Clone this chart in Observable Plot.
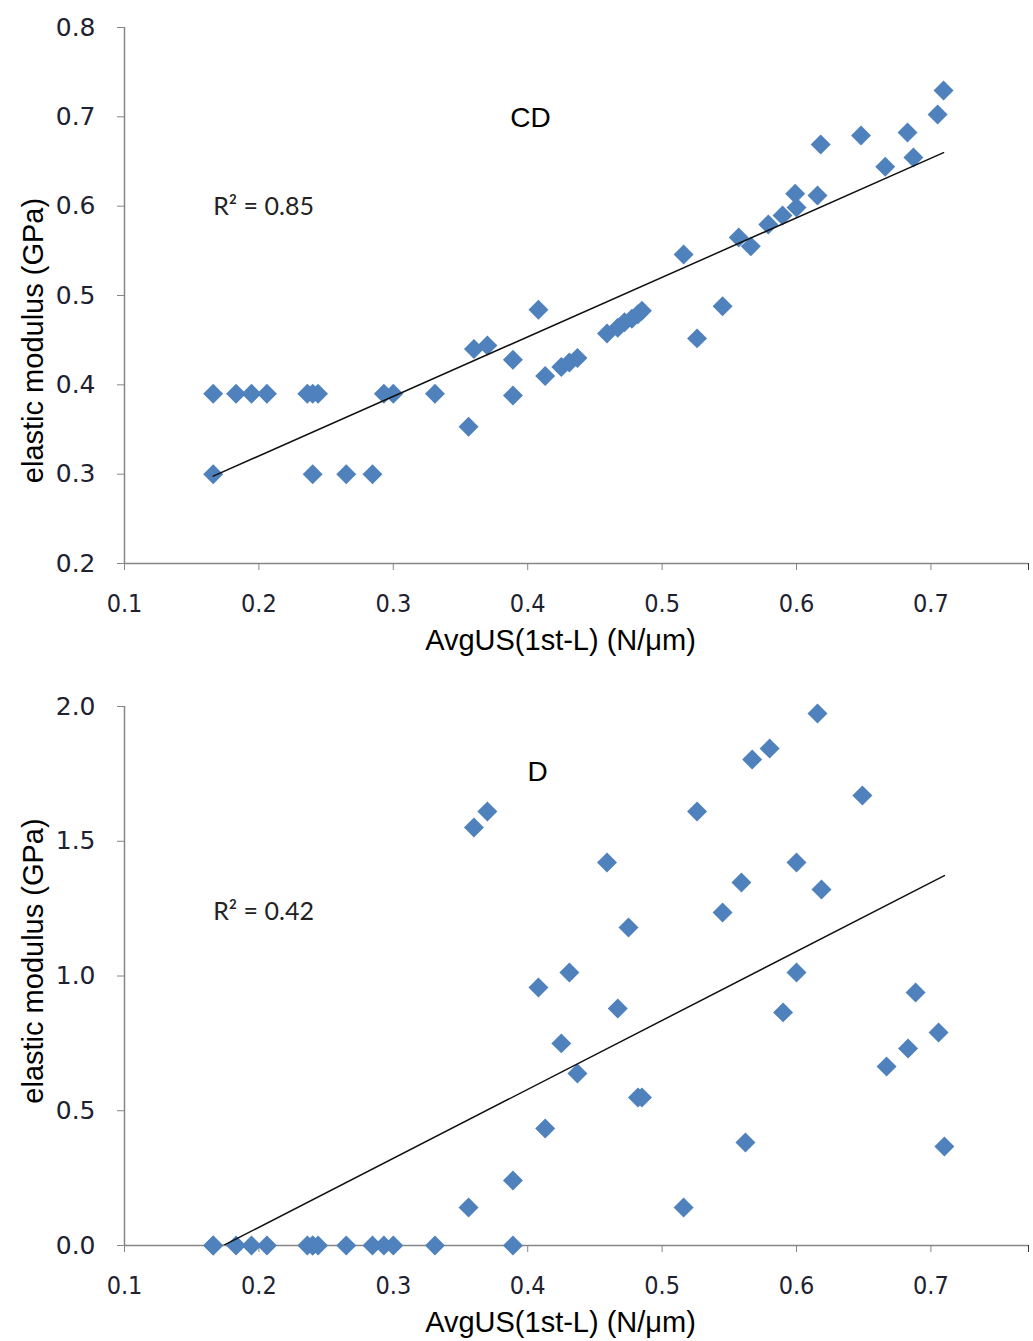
<!DOCTYPE html>
<html><head><meta charset="utf-8">
<script src="https://cdn.jsdelivr.net/npm/d3@7"></script>
<script src="https://cdn.jsdelivr.net/npm/@observablehq/plot@0.6"></script>
<style>body{margin:0;background:#fff} svg{display:block}</style>
</head><body><div id="chart"></div>
<script>
// ---- data ----
const cdX = [0.166,0.183,0.1945,0.206,0.236,0.240,0.244,0.293,0.300,0.331,
  0.166,0.240,0.265,0.2845,
  0.356,0.360,0.370,0.389,0.389,0.408,0.413,0.425,0.431,0.437,
  0.459,0.467,0.472,0.4775,0.482,0.485,0.516,0.526,0.545,0.557,0.566,0.579,0.5896,
  0.599,0.600,0.6156,0.618,0.648,0.666,0.6826,0.687,0.705,0.7094];
const cdY = [0.39,0.39,0.39,0.39,0.39,0.39,0.39,0.39,0.39,0.39,
  0.30,0.30,0.30,0.30,
  0.353,0.44,0.444,0.428,0.388,0.484,0.41,0.42,0.425,0.43,
  0.4575,0.464,0.47,0.474,0.479,0.483,0.546,0.452,0.488,0.565,0.555,0.5795,0.5896,
  0.614,0.5985,0.612,0.669,0.679,0.644,0.6825,0.6545,0.7026,0.7295];
const dX = [0.166,0.166,0.183,0.1945,0.206,0.236,0.240,0.240,0.244,0.265,0.2845,0.293,0.300,0.331,0.389,
  0.356,0.360,0.370,0.389,0.408,0.413,0.425,0.431,0.437,0.459,
  0.467,0.475,0.482,0.485,0.516,0.526,0.545,0.559,0.562,0.567,
  0.580,0.590,0.600,0.600,0.6156,0.6186,0.649,0.667,0.683,0.6886,
  0.7057,0.710];
const dY = [0,0,0,0,0,0,0,0,0,0,0,0,0,0,0,
  0.141,1.551,1.61,0.241,0.957,0.434,0.75,1.013,0.638,1.421,
  0.879,1.18,0.549,0.549,0.141,1.61,1.236,1.347,0.382,1.803,
  1.844,0.865,1.421,1.013,1.974,1.321,1.67,0.664,0.731,0.939,
  0.79,0.367];
const xTicks = [0.1,0.2,0.3,0.4,0.5,0.6,0.7];
const cdYTicks = [0.2,0.3,0.4,0.5,0.6,0.7,0.8];
const dYTicks = [0,0.5,1.0,1.5,2.0];
const xTitle = "AvgUS(1st-L) (N/μm)";
const yTitle = "elastic modulus (GPa)";
const cdName = "CD", dName = "D";
const cdR2 = "R² = 0.85", dR2 = "R² = 0.42";
// annotation anchors in data units
const cdNamePos = [0.402, 0.699], cdR2Pos = [0.166, 0.5996];
const dNamePos = [0.4073, 1.755], dR2Pos = [0.166, 1.239];

const xDomain = [0.1, 0.7726];
const axisGray = "#868686";
const blue = "#4F81BD";

function chart({xs, ys, yDomain, yTicks, height, mt, mb, name, namePos, r2, r2Pos, yTitleDy}) {
  const data = xs.map((x, i) => ({x, y: ys[i]}));
  return Plot.plot({
    width: 1033, height,
    marginLeft: 124, marginRight: 5, marginTop: mt, marginBottom: mb,
    style: {fontFamily: "DejaVu Sans, sans-serif", fontSize: "22px", color: "#222", background: "#fff"},
    x: {domain: xDomain},
    y: {domain: yDomain},
    marks: [
      Plot.ruleX([xDomain[0]], {y1: yDomain[0], y2: yDomain[1], stroke: axisGray, strokeWidth: 1.5}),
      Plot.ruleY([yDomain[0]], {x1: xDomain[0], x2: xDomain[1], stroke: axisGray, strokeWidth: 1.5}),
      Plot.axisY(yTicks, {tickSize: 7, tickPadding: 22, stroke: axisGray, fill: "#1e2230", label: null,
        tickFormat: d3.format(".1f"), fontSize: 25, fontFamily: "DejaVu Sans, sans-serif"}),
      Plot.axisX(xTicks, {tickSize: 7, tickPadding: 24, stroke: axisGray, fill: "#1e2230", label: null,
        tickFormat: d3.format(".1f"), fontSize: 25, fontFamily: "DejaVu Sans Condensed, DejaVu Sans, sans-serif"}),
      Plot.axisX([xDomain[1]], {tickSize: 7, stroke: "#333", label: null, tickFormat: () => ""}),
      Plot.dot(data, {x: "x", y: "y", symbol: "diamond2", r: 9, fill: blue, stroke: null}),
      Plot.linearRegressionY(data, {x: "x", y: "y", ci: 0, stroke: "#111", strokeWidth: 1.5, clip: true}),
      Plot.text([name], {x: () => namePos[0], y: () => namePos[1], text: d => d, fontSize: 28,
        fontFamily: "Liberation Sans, Arial, sans-serif", fill: "#000"}),
      Plot.text([r2], {x: () => r2Pos[0], y: () => r2Pos[1], text: d => d, textAnchor: "start", fontSize: 25,
        fontFamily: "Lato, Carlito, sans-serif", fill: "#222"}),
      Plot.text([yTitle], {frameAnchor: "left", dx: -91, dy: yTitleDy, rotate: -90, text: d => d,
        textAnchor: "middle", lineAnchor: "middle", fontSize: 29,
        fontFamily: "Liberation Sans, Arial, sans-serif", fill: "#000"}),
      Plot.text([xTitle], {frameAnchor: "bottom", dx: -16, dy: 77, text: d => d,
        textAnchor: "middle", lineAnchor: "middle", fontSize: 29,
        fontFamily: "Liberation Sans, Arial, sans-serif", fill: "#000"})
    ]
  });
}

const root = document.getElementById("chart");
root.append(chart({xs: cdX, ys: cdY, yDomain: [0.2, 0.8], yTicks: cdYTicks, height: 670, mt: 27, mb: 107,
  name: cdName, namePos: cdNamePos, r2: cdR2, r2Pos: cdR2Pos, yTitleDy: 45}));
root.append(chart({xs: dX, ys: dY, yDomain: [0, 2], yTicks: dYTicks, height: 671, mt: 36, mb: 96,
  name: dName, namePos: dNamePos, r2: dR2, r2Pos: dR2Pos, yTitleDy: -15}));
</script>
</body></html>
